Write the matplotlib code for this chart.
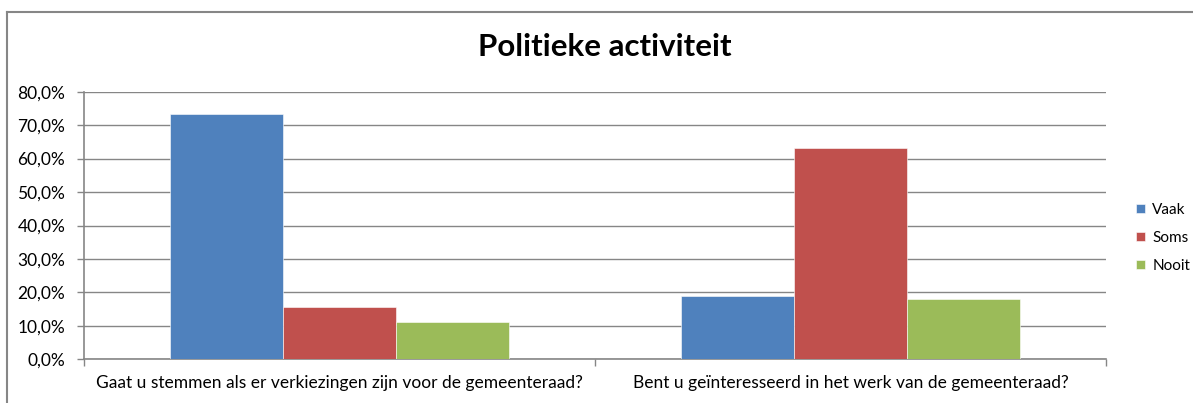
import matplotlib.pyplot as plt
from matplotlib.ticker import FuncFormatter, FixedLocator
import numpy as np

categories = ["Gaat u stemmen als er verkiezingen zijn voor de gemeenteraad?",
              "Bent u geïnteresseerd in het werk van de gemeenteraad?"]
series = ["Vaak", "Soms", "Nooit"]
vaak = [73.2, 18.9]
soms = [15.6, 63.1]
nooit = [11.2, 18.0]
colors = ["#4F81BD", "#C0504D", "#9BBB59"]

plt.rcParams['font.family'] = ['Lato', 'DejaVu Sans']
W, H = 1193, 403
fig = plt.figure(figsize=(W / 100, H / 100), dpi=100)

x0, x1, y0, y1 = 84, 1106, 359.3, 91.7
ax = fig.add_axes([x0 / W, 1 - y0 / H, (x1 - x0) / W, (y0 - y1) / H])

x = np.arange(len(categories))
w = 0.2215
for i, (vals, name) in enumerate(zip([vaak, soms, nooit], series)):
    ax.bar(x + (i - 1) * w, vals, w, color=colors[i], label=name,
           edgecolor="white", linewidth=0.4, zorder=3)

ax.set_xlim(-0.5, 1.5)
ax.set_ylim(0, 80)
ax.set_yticks(np.arange(0, 81, 10))
ax.yaxis.set_major_formatter(FuncFormatter(lambda v, p: f"{v:.1f}%".replace(".", ",")))
ax.grid(axis="y", color="#868686", linewidth=1, zorder=0)
ax.set_axisbelow(True)

ax.set_xticks(x)
ax.set_xticklabels(categories)
ax.xaxis.set_minor_locator(FixedLocator([-0.5, 0.5, 1.5]))
ax.tick_params(axis="x", which="major", length=0, pad=11, labelsize=12.5)
ax.tick_params(axis="x", which="minor", length=5, width=1, color="#868686")
ax.tick_params(axis="y", length=5, width=1, color="#868686", pad=8.5, labelsize=12.5)

for s in ["top", "right"]:
    ax.spines[s].set_visible(False)
for s in ["left", "bottom"]:
    ax.spines[s].set_color("#868686")
    ax.spines[s].set_linewidth(1.2)

fig.text(605 / W, 1 - 47 / H, "Politieke activiteit", ha="center", va="center",
         fontsize=22.5, fontweight="bold")

ax.legend(loc="upper left", bbox_to_anchor=(1130 / W, 1 - 197 / H),
          bbox_transform=fig.transFigure, frameon=False, fontsize=11,
          handlelength=0.55, handleheight=0.55, handletextpad=0.5,
          labelspacing=0.9, borderaxespad=0)

# chart border
fig.add_artist(plt.Line2D([7 / W, 1], [1 - 12 / H, 1 - 12 / H], color="#868686", linewidth=1.5))
fig.add_artist(plt.Line2D([7 / W, 7 / W], [0, 1 - 12 / H], color="#868686", linewidth=1.5))

fig.savefig("out.png", dpi=100)
